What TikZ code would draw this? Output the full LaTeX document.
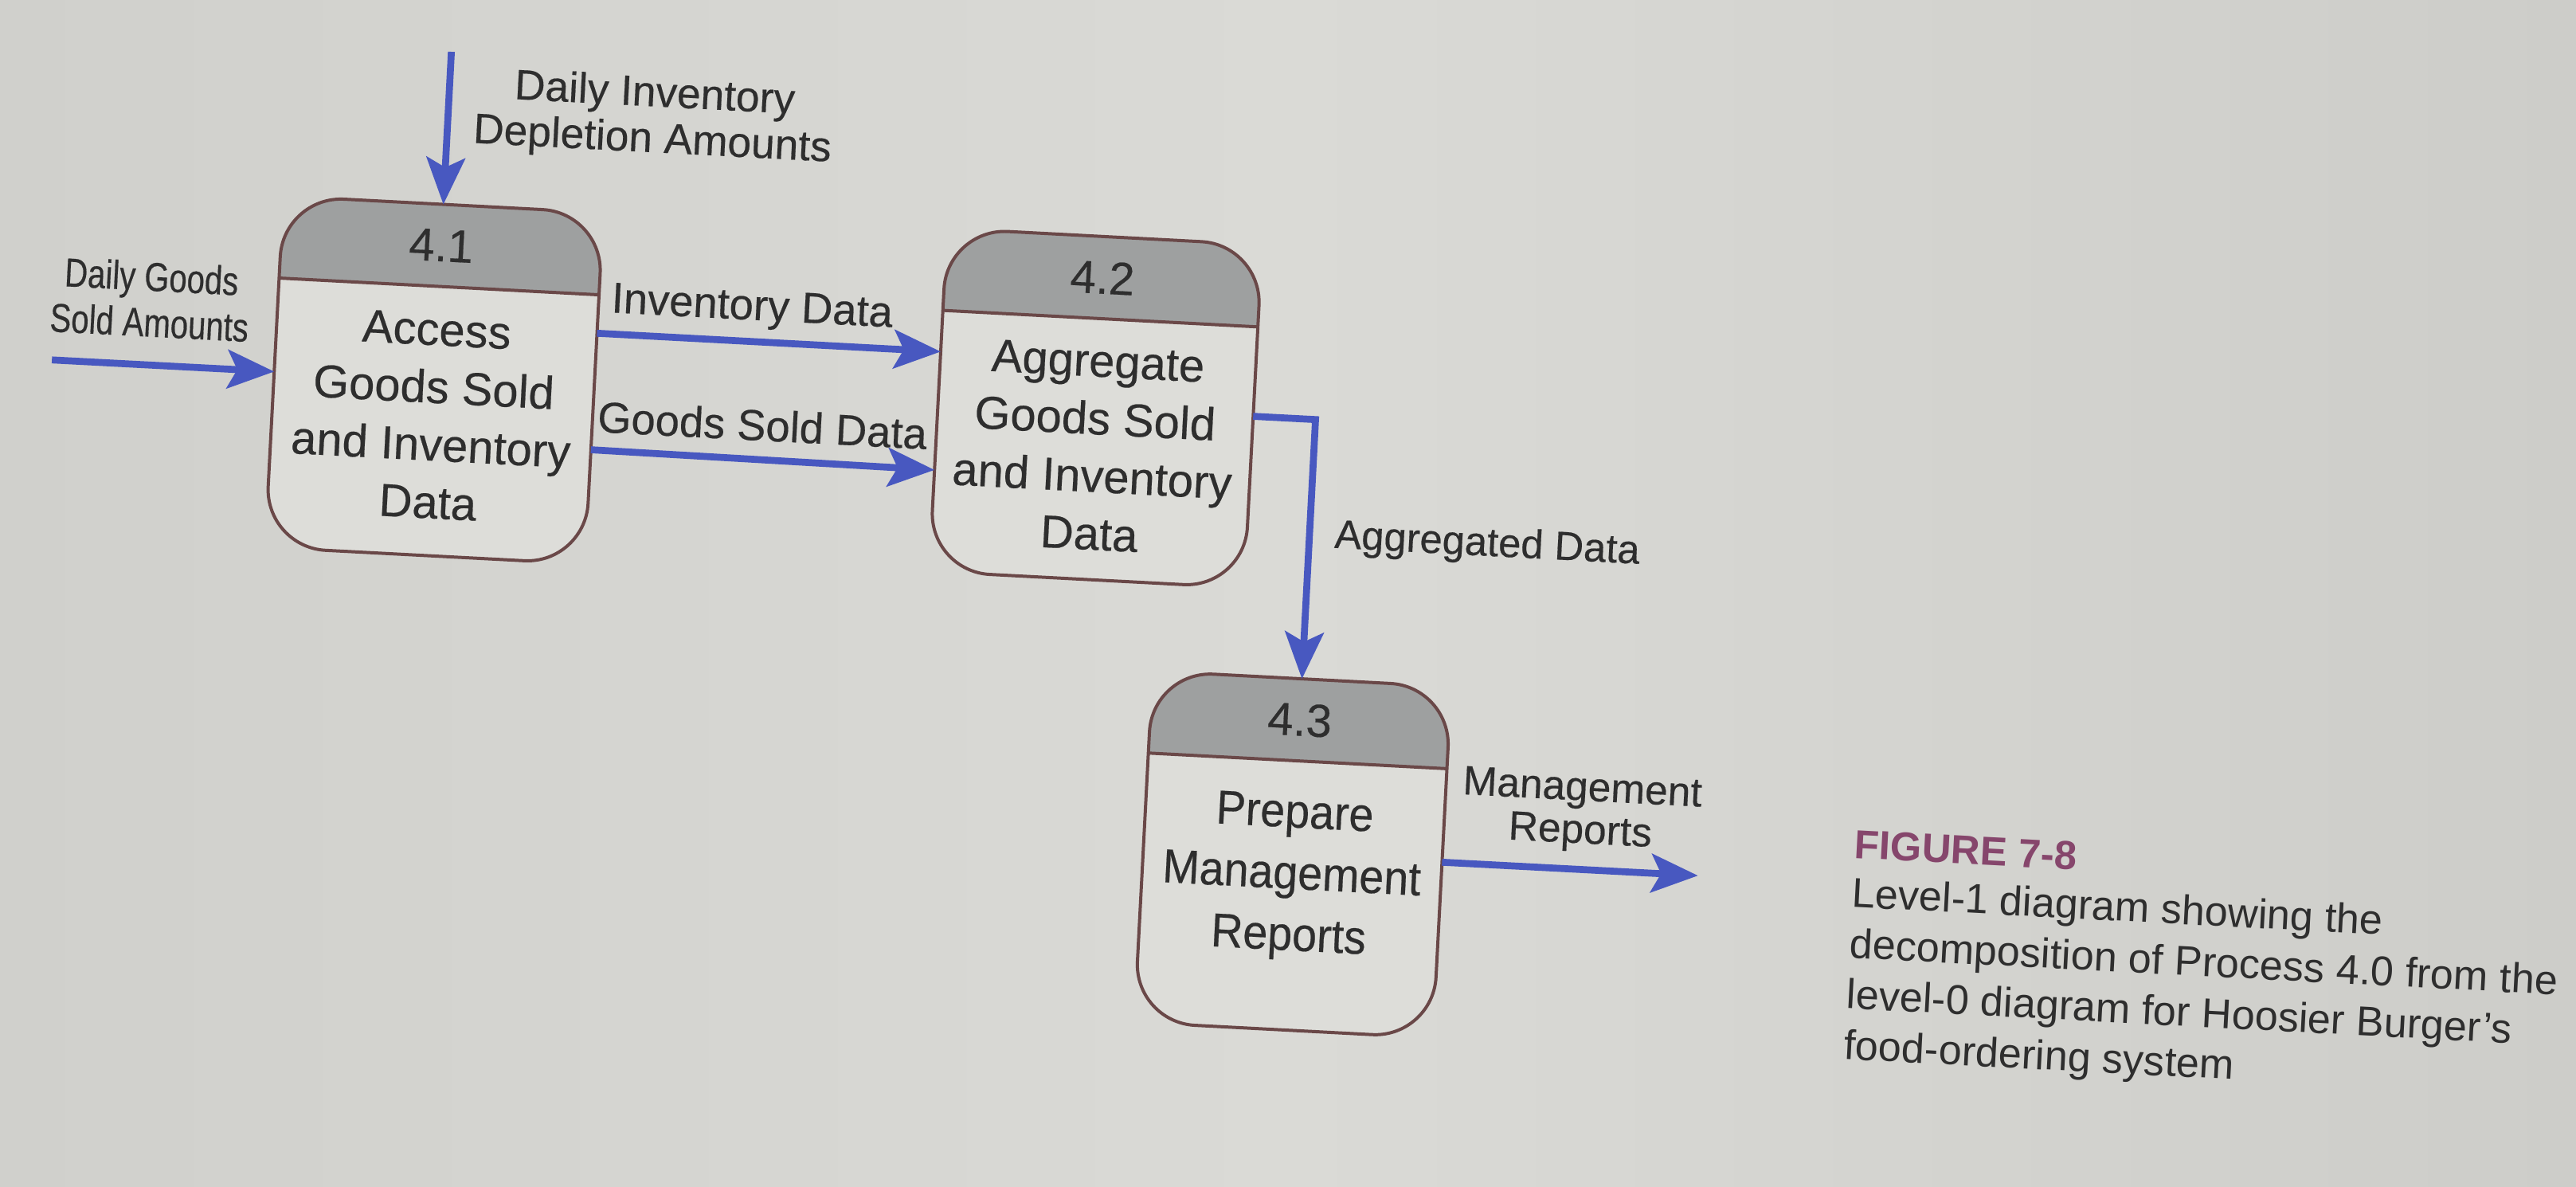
\documentclass[tikz,border=0pt]{standalone}
\usepackage{fontspec}
\setmainfont[FakeBold=0.35]{Liberation Sans}
\newfontfamily\condfont[FakeStretch=0.79,FakeBold=0.35]{Liberation Sans}
\newfontfamily\midfont[FakeStretch=0.93,FakeBold=0.35]{Liberation Sans}
\newfontfamily\capfont{Liberation Sans}
\usetikzlibrary{arrows.meta,calc}
\definecolor{page}{HTML}{DADAD6}
\definecolor{pageL}{HTML}{D0D0CC}
\definecolor{pageR}{HTML}{CDCDC9}
\definecolor{bodyc}{HTML}{DDDDD9}
\definecolor{flow}{HTML}{4858C0}
\definecolor{hdr}{HTML}{9EA0A0}
\definecolor{edgec}{HTML}{6A4848}
\definecolor{ink}{HTML}{2E2E2E}
\definecolor{figred}{HTML}{86466C}
\tikzset{
  boxline/.style={draw=edgec, line width=1.1pt},
  flowline/.style={draw=flow, line width=2.4pt, -{Stealth[length=0.57cm,width=0.47cm,inset=0.12cm]}},
  lbl/.style={text=ink, font=\fontsize{15}{16}\selectfont, align=center, inner sep=0pt},
  boxtxt/.style={text=ink, font=\fontsize{16}{20}\selectfont, align=center, inner sep=0pt},
  numtxt/.style={text=ink, font=\fontsize{16}{19}\selectfont, inner sep=0pt},
}
\newcommand{\procbox}[5]{%
  \pgfmathsetmacro{\pbxl}{#2-#4/2}\pgfmathsetmacro{\pbxr}{#2+#4/2}%
  \pgfmathsetmacro{\pbyt}{-(#3-#5/2)}\pgfmathsetmacro{\pbyb}{-(#3+#5/2)}%
  \pgfmathsetmacro{\pbyh}{\pbyt-50}%
  \begin{scope}
    \clip[rounded corners=0.74cm] (\pbxl,\pbyt) rectangle (\pbxr,\pbyb);
    \fill[bodyc] (\pbxl,\pbyt) rectangle (\pbxr,\pbyb);
    \fill[hdr] (\pbxl,\pbyt) rectangle (\pbxr,\pbyh);
  \end{scope}
  \draw[boxline, rounded corners=0.74cm] (\pbxl,\pbyt) rectangle (\pbxr,\pbyb);
  \draw[boxline] (\pbxl,\pbyh) -- (\pbxr,\pbyh);
  \node[minimum width=#4*0.02cm, minimum height=#5*0.02cm, inner sep=0pt, outer sep=0pt] (#1) at (#2,-#3) {};
}
\begin{document}
\begin{tikzpicture}[x=0.02cm,y=0.02cm]
\useasboundingbox (0,0) rectangle (1568,-722);
\shade[left color=pageL, right color=pageR, middle color=page] (0,0) rectangle (1568,-722);
\begin{scope}[rotate around={-3:(600,-360)}, transform shape]
  % process boxes
  \procbox{b41}{258}{249}{195}{214}
  \procbox{b42}{661}{245}{192}{209}
  \procbox{b43}{795}{510}{182}{214}
  \node[numtxt] (n41) at (258,-167) {4.1};
  \node[numtxt] (n42) at (661,-165.5) {4.2};
  \node[numtxt] (n43) at (795,-428) {4.3};
  \node[boxtxt] (t41) at (258,-271) {Access\\Goods Sold\\and Inventory\\Data};
  \node[boxtxt] (t42) at (661,-269) {Aggregate\\Goods Sold\\and Inventory\\Data};
  \node[boxtxt, font=\midfont\fontsize{16.5}{21.3}\selectfont] (t43) at (795,-524) {Prepare\\Management\\Reports};
  % free ends and bends
  \coordinate (di) at (258,-49);
  \coordinate (dg) at (25,-249);
  \coordinate (agc) at (795,-245);
  \coordinate (mr) at (1042,-510);
  % flows
  \draw[flowline] (di) -- (b41.north);
  \draw[flowline] (dg) -- (b41.west);
  \draw[flowline] (b41.19) -- (b42.163);
  \draw[flowline] (b41.339) -- (b42.204);
  \draw[flowline] (b42.east) -- (agc) -- (b43.north);
  \draw[flowline] (b43.east) -- (mr);
  % labels
  \node[lbl, font=\fontsize{14.7}{15.9}\selectfont] (ldi) at (383,-83) {Daily Inventory\\Depletion Amounts};
  \node[lbl, font=\condfont\fontsize{14}{15.9}\selectfont] (ldg) at (83,-209) {Daily Goods\\Sold Amounts};
  \node[lbl] (lid) at (449,-196) {Inventory Data};
  \node[lbl] (lgs) at (459,-266) {Goods Sold Data};
  \node[lbl, font=\fontsize{14}{15}\selectfont, anchor=west] (lad) at (810,-316) {Aggregated Data};
  \node[lbl, font=\fontsize{14.2}{14.8}\selectfont] (lmr) at (969,-475) {Management\\Reports};
  % caption
  \node[anchor=west, inner sep=0pt, text=figred, font=\capfont\bfseries\fontsize{14}{16}\selectfont] (fig) at (1136,-486) {FIGURE 7-8};
  \node[anchor=west, inner sep=0pt, text=ink, align=left, font=\capfont\fontsize{14.4}{17.6}\selectfont] (cap) at (1136,-564) {Level-1 diagram showing the\\decomposition of Process 4.0 from the\\level-0 diagram for Hoosier Burger’s\\food-ordering system};
\end{scope}
\end{tikzpicture}
\end{document}
